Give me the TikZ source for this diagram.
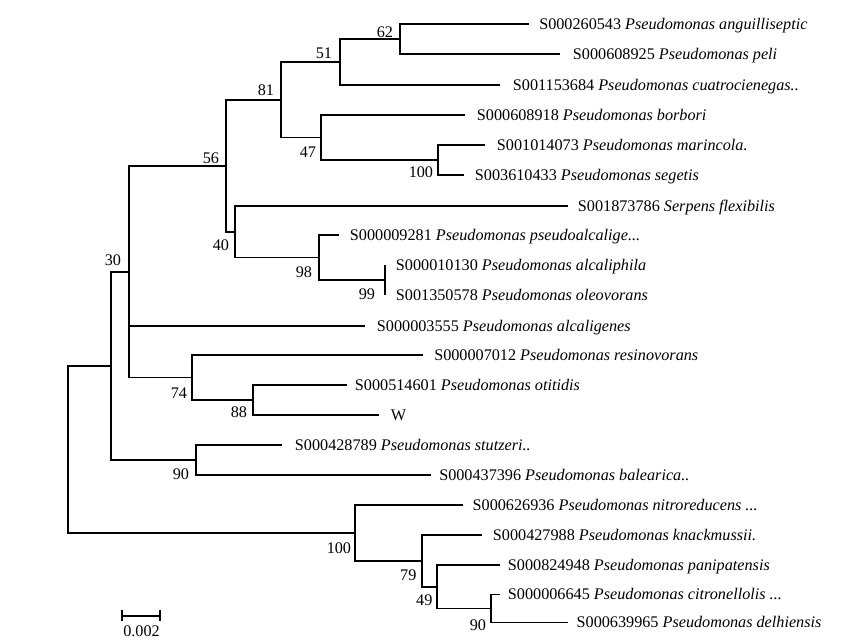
\documentclass[tikz,border=0pt]{standalone}
\usepackage{fontspec}
\setmainfont{Liberation Serif}
\begin{document}
\begin{tikzpicture}[x=1pt,y=-1pt,line width=1.9pt]
\tikzset{
  leaf/.style={anchor=base west,inner sep=0pt,font=\fontsize{16.2}{19}\selectfont},
  bs/.style={anchor=base east,inner sep=0pt,font=\fontsize{16.2}{19}\selectfont},
}
\useasboundingbox (0,0) rectangle (862,643);
% leaf ends
\coordinate (L1) at (529,24.3);
\coordinate (L2) at (560,54.3);
\coordinate (L3) at (500,85);
\coordinate (L4) at (465,115);
\coordinate (L5) at (485,145);
\coordinate (L6) at (464,175);
\coordinate (L7) at (568,205.7);
\coordinate (L8) at (339.3,235);
\coordinate (L9) at (385,265);
\coordinate (L10) at (385,295);
\coordinate (L11) at (365,325.7);
\coordinate (L12) at (423.3,355);
\coordinate (L13) at (346.7,385);
\coordinate (L14) at (379.3,415);
\coordinate (L15) at (281.7,445);
\coordinate (L16) at (431,475);
\coordinate (L17) at (463.3,505);
\coordinate (L18) at (481.7,535);
\coordinate (L19) at (500,565);
\coordinate (L20) at (500,594.5);
\coordinate (L21) at (568.3,622.5);
% internal nodes
\coordinate (n62) at (400,39.3);
\coordinate (n51) at (340,62.2);
\coordinate (n100a) at (438.3,160);
\coordinate (n47) at (321,137.5);
\coordinate (n81) at (281,99.8);
\coordinate (n99) at (385,280);
\coordinate (n98) at (319,257.5);
\coordinate (n40) at (235.3,231.6);
\coordinate (n56) at (225.7,165.7);
\coordinate (n88) at (253.3,400);
\coordinate (n74) at (192,377.5);
\coordinate (n30) at (129.3,271.6);
\coordinate (n90) at (196,460);
\coordinate (n111) at (111,365.8);
\coordinate (n90b) at (491,608.5);
\coordinate (n49) at (436.7,586.8);
\coordinate (n79) at (422,560.9);
\coordinate (n100b) at (355,533);
\coordinate (root) at (68.3,449.4);
% branches
\draw (L1) -| (n62) |- (L2);
\draw (n62) -| (n51) |- (L3);
\draw (L5) -| (n100a) |- (L6);
\draw (L4) -| (n47) |- (n100a);
\draw (n51) -| (n81) |- (n47);
\draw (L9) -- (L10);
\draw (L8) -| (n98) |- (n99);
\draw (L7) -| (n40) |- (n98);
\draw (n81) -| (n56) |- (n40);
\draw (L13) -| (n88) |- (L14);
\draw (L12) -| (n74) |- (n88);
\draw (n56) -| (n30) |- (n74);
\draw (n30 |- L11) -- (L11);
\draw (L15) -| (n90) |- (L16);
\draw (n30) -| (n111) |- (n90);
\draw (L20) -| (n90b) |- (L21);
\draw (L19) -| (n49) |- (n90b);
\draw (L18) -| (n79) |- (n49);
\draw (L17) -| (n100b) |- (n79);
\draw (n111) -| (root) |- (n100b);
% leaf labels
\node[leaf] (t1) at (538.3,29.6) {S000260543 \textit{Pseudomonas anguilliseptic}};
\node[leaf] (t2) at (572,59.6) {S000608925 \textit{Pseudomonas peli}};
\node[leaf] (t3) at (512,90.3) {S001153684 \textit{Pseudomonas cuatrocienegas..}};
\node[leaf] (t4) at (476,120.3) {S000608918 \textit{Pseudomonas borbori}};
\node[leaf] (t5) at (496,150.3) {S001014073 \textit{Pseudomonas marincola.}};
\node[leaf] (t6) at (474,180.3) {S003610433 \textit{Pseudomonas segetis}};
\node[leaf] (t7) at (577,211) {S001873786 \textit{Serpens flexibilis}};
\node[leaf] (t8) at (349,240.3) {S000009281 \textit{Pseudomonas pseudoalcalige...}};
\node[leaf] (t9) at (395,270.3) {S000010130 \textit{Pseudomonas alcaliphila}};
\node[leaf] (t10) at (395,300.3) {S001350578 \textit{Pseudomonas oleovorans}};
\node[leaf] (t11) at (376,331) {S000003555 \textit{Pseudomonas alcaligenes}};
\node[leaf] (t12) at (433.3,360.3) {S000007012 \textit{Pseudomonas resinovorans}};
\node[leaf] (t13) at (354,390.3) {S000514601 \textit{Pseudomonas otitidis}};
\node[leaf] (t14) at (390,420.3) {W};
\node[leaf] (t15) at (294,450.3) {S000428789 \textit{Pseudomonas stutzeri..}};
\node[leaf] (t16) at (438.3,480.3) {S000437396 \textit{Pseudomonas balearica..}};
\node[leaf] (t17) at (471.7,510.3) {S000626936 \textit{Pseudomonas nitroreducens ...}};
\node[leaf] (t18) at (492,540.3) {S000427988 \textit{Pseudomonas knackmussii.}};
\node[leaf] (t19) at (507,570.3) {S000824948 \textit{Pseudomonas panipatensis}};
\node[leaf] (t20) at (507,599.8) {S000006645 \textit{Pseudomonas citronellolis ...}};
\node[leaf] (t21) at (575.7,627.8) {S000639965 \textit{Pseudomonas delhiensis}};
% bootstrap values
\node[bs] (b62) at (394,37) {62};
\node[bs] (b51) at (333,58) {51};
\node[bs] (b81) at (275,95) {81};
\node[bs] (b47) at (317,157) {47};
\node[bs] (b100a) at (434,177.5) {100};
\node[bs] (b56) at (220,163) {56};
\node[bs] (b40) at (230,250) {40};
\node[bs] (b98) at (313,277) {98};
\node[bs] (b99) at (376,299) {99};
\node[bs] (b30) at (122,265) {30};
\node[bs] (b74) at (188,398) {74};
\node[bs] (b88) at (248,417) {88};
\node[bs] (b90) at (190,479) {90};
\node[bs] (b100b) at (352,553) {100};
\node[bs] (b79) at (417.3,580) {79};
\node[bs] (b49) at (433.3,605) {49};
\node[bs] (b90b) at (487,630) {90};
% scale bar
\coordinate (s1) at (121.7,615.7);
\coordinate (s2) at (160,615.7);
\draw (s1) -- (s2);
\draw ([yshift=5.3pt]s1) -- ([yshift=-5.3pt]s1);
\draw ([yshift=5.3pt]s2) -- ([yshift=-5.3pt]s2);
\node[anchor=base,inner sep=0pt,font=\fontsize{16.2}{19}\selectfont] (sl) at (141.5,636.5) {0.002};
\end{tikzpicture}
\end{document}
